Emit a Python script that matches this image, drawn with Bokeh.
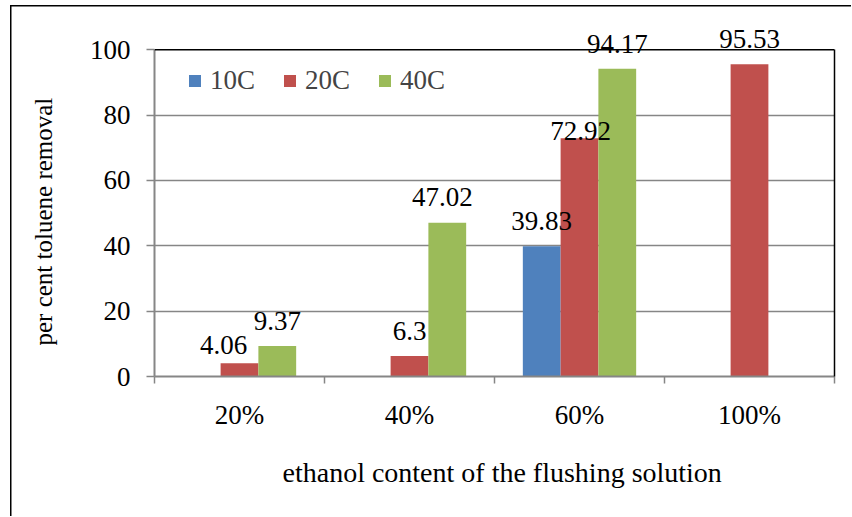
from bokeh.plotting import figure
from bokeh.models import (Range1d, FixedTicker, LinearAxis, Legend, LegendItem,
                          ColumnDataSource, LabelSet, Span, Title)
from bokeh.embed import file_html
from bokeh.resources import INLINE

# ---- data ----
categories = ["20%", "40%", "60%", "100%"]
series_names = ["10C", "20C", "40C"]
vals_10C = [None, None, 39.83, None]
vals_20C = [4.06, 6.3, 72.92, 95.53]
vals_40C = [9.37, 47.02, 94.17, None]
y_ticks = [0, 20, 40, 60, 80, 100]
y_max = 100
x_title = "ethanol content of the flushing solution"
y_title = "per cent toluene removal"

# ---- style ----
colors = ["#4F81BD", "#C0504D", "#9BBB59"]
FONT = "Liberation Serif"
GRAY = "#868686"
LABEL_RISE = 16  # px between bar top and label baseline
# manually moved data labels in the original: (dx px, rise px)
label_nudge = {("20C", 0): (-16, 9), ("20C", 2): (1, -1.5), ("40C", 1): (-5, 17)}
HEADROOM = 1.12  # extra room above the plot area so labels above 100 are not clipped

series = [vals_10C, vals_20C, vals_40C]
n_series = len(series)
bar_w = 1.0 / (n_series + 1.5)  # Excel gap width 150%

p = figure(width=851, height=516, output_backend="svg", toolbar_location=None,
           x_range=Range1d(0, len(categories)), y_range=Range1d(0, y_max * HEADROOM),
           min_border_left=154, min_border_top=10, min_border_right=17,
           min_border_bottom=140)
p.background_fill_color = "white"
p.border_fill_color = None
p.outline_line_color = None
# outer chart-area frame (left and top edges; right/bottom fall outside the picture)
p.styles = {"background": "linear-gradient(#000, #000) 10px 5px / 1.5px calc(100% - 5px) no-repeat, "
                          "linear-gradient(#000, #000) 10px 5px / calc(100% - 10px) 1.5px no-repeat, #fff"}

renderers = []
lab_x, lab_y, lab_t, lab_dx, lab_dy = [], [], [], [], []
for s, (name, vals) in enumerate(zip(series_names, series)):
    xs = [i + 0.5 + (s - (n_series - 1) / 2) * bar_w for i in range(len(categories))]
    tops = [v if v is not None else float("nan") for v in vals]
    src = ColumnDataSource(dict(x=xs, top=tops))
    r = p.vbar(x="x", top="top", width=bar_w, bottom=0, source=src,
               fill_color=colors[s], line_color=None)
    renderers.append(r)
    for i, v in enumerate(vals):
        if v is None:
            continue
        dx, rise = label_nudge.get((name, i), (0, LABEL_RISE))
        lab_x.append(xs[i])
        lab_y.append(v)
        lab_t.append(f"{v:g}")
        lab_dx.append(dx)
        lab_dy.append(rise)

# y grid (below 100) and top border of the plot area
p.xgrid.grid_line_color = None
p.ygrid.ticker = FixedTicker(ticks=[t for t in y_ticks if t < y_max])
p.ygrid.grid_line_color = GRAY
p.ygrid.grid_line_width = 1.5
p.add_layout(Span(location=y_max, dimension="width", line_color="black", line_width=1.5))

lsrc = ColumnDataSource(dict(x=lab_x, y=lab_y, text=lab_t, dx=lab_dx, dy=lab_dy))
labels = LabelSet(x="x", y="y", text="text", x_offset="dx", y_offset="dy", source=lsrc,
                  text_font=FONT, text_font_size="27px", text_color="black",
                  text_align="center", text_baseline="alphabetic")
p.add_layout(labels)

# y axis
ya = p.yaxis[0]
ya.bounds = (0, y_max)
ya.ticker = FixedTicker(ticks=y_ticks)
ya.axis_line_color = GRAY
ya.axis_line_width = 2
ya.major_tick_line_color = GRAY
ya.major_tick_line_width = 1.5
ya.major_tick_in = 0
ya.major_tick_out = 8
ya.minor_tick_line_color = None
ya.major_label_text_font = FONT
ya.major_label_text_font_size = "27px"
ya.major_label_text_color = "black"
ya.major_label_standoff = 16

# x axis
xa = p.xaxis[0]
xa.ticker = FixedTicker(ticks=[i + 0.5 for i in range(len(categories))],
                        minor_ticks=list(range(len(categories) + 1)))
xa.major_label_overrides = {i + 0.5: c for i, c in enumerate(categories)}
xa.axis_line_color = GRAY
xa.axis_line_width = 2
xa.major_tick_line_color = None
xa.major_tick_in = 0
xa.major_tick_out = 0
xa.minor_tick_line_color = GRAY
xa.minor_tick_line_width = 1.5
xa.minor_tick_in = 0
xa.minor_tick_out = 7
xa.major_label_text_font = FONT
xa.major_label_text_font_size = "27px"
xa.major_label_text_color = "black"
xa.major_label_standoff = 16

# right border of the plot area
rax = LinearAxis(bounds=(0, y_max), ticker=FixedTicker(ticks=[]), axis_line_color="black",
                 axis_line_width=1.5, major_tick_line_color=None,
                 minor_tick_line_color=None, major_label_text_font_size="0px")
p.add_layout(rax, "right")

# axis titles
p.add_layout(Title(text=y_title, align="left", vertical_align="top", offset=31, standoff=56,
                   text_font=FONT, text_font_size="25px", text_font_style="normal",
                   text_color="black"), "left")
p.add_layout(Title(text=x_title, align="left", vertical_align="top", offset=128, standoff=48,
                   text_font=FONT, text_font_size="28px", text_font_style="normal",
                   text_color="black"), "below")

legend = Legend(items=[LegendItem(label=n, renderers=[r]) for n, r in zip(series_names, renderers)],
                orientation="horizontal", location=(33, 280),
                label_text_font=FONT, label_text_font_size="27px",
                glyph_width=15, glyph_height=15, label_standoff=8, spacing=27,
                padding=0, margin=0, border_line_color=None,
                background_fill_alpha=0)
p.add_layout(legend, "center")

open("out.html", "w").write(file_html(p, INLINE))
